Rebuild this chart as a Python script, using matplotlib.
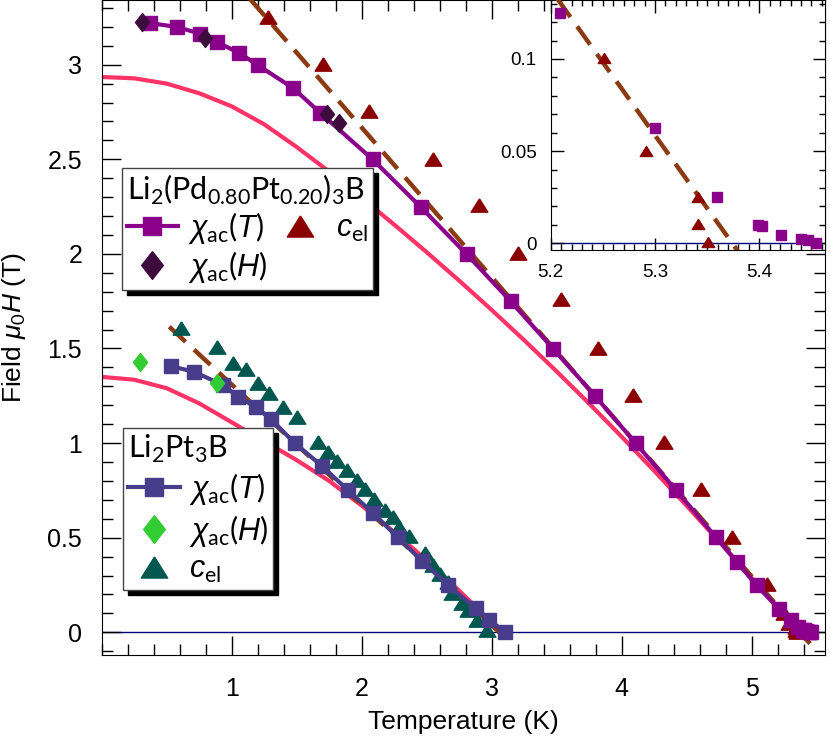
import matplotlib
matplotlib.use('Agg')
import matplotlib.pyplot as plt
from matplotlib.ticker import MultipleLocator, FuncFormatter, FixedLocator
from matplotlib.lines import Line2D
import numpy as np

plt.rcParams['font.family'] = ['Liberation Sans', 'DejaVu Sans']
plt.rcParams['mathtext.fontset'] = 'custom'
plt.rcParams['mathtext.rm'] = 'Lato'
plt.rcParams['mathtext.it'] = 'Liberation Sans:italic'
plt.rcParams['mathtext.bf'] = 'Lato:bold'

# Li2(Pd0.80Pt0.20)3B
pd_chiT_T = [0.372, 0.582, 0.756, 0.885, 1.058, 1.202, 1.474, 1.679, 2.085, 2.454, 2.808,
             3.146, 3.474, 3.797, 4.110, 4.418, 4.726, 4.885, 5.038, 5.209, 5.300, 5.359,
             5.399, 5.403, 5.4205, 5.4397, 5.4467, 5.454]
pd_chiT_H = [3.220, 3.199, 3.164, 3.120, 3.062, 2.997, 2.876, 2.747, 2.499, 2.248, 1.998,
             1.750, 1.498, 1.248, 0.998, 0.752, 0.502, 0.373, 0.248, 0.125, 0.0628, 0.0253,
             0.0098, 0.0094, 0.0045, 0.0025, 0.0018, 0.0003]
pd_chiH_T = [0.308, 0.797, 1.731, 1.828]
pd_chiH_H = [3.226, 3.143, 2.742, 2.692]
pd_cel_T = [1.277, 1.705, 2.058, 2.546, 2.902, 3.205, 3.532, 3.820, 4.089, 4.328, 4.610,
            4.846, 5.115, 5.251, 5.291, 5.341, 5.341, 5.3505]
pd_cel_H = [3.252, 3.006, 2.754, 2.504, 2.257, 2.004, 1.760, 1.505, 1.254, 1.004, 0.755,
            0.505, 0.255, 0.1005, 0.0502, 0.0253, 0.0103, 0.0005]
pd_whh_T = [0, 0.25, 0.5, 0.75, 1.0, 1.25, 1.5, 1.75, 2.0, 2.25, 2.5, 2.75, 3.0, 3.25,
            3.5, 3.75, 4.0, 4.25, 4.5, 4.75, 5.0, 5.25, 5.373]
pd_whh_H = [2.935, 2.928, 2.90, 2.849, 2.78, 2.685, 2.565, 2.435, 2.297, 2.155, 2.009, 1.859,
            1.704, 1.544, 1.379, 1.209, 1.034, 0.854, 0.669, 0.48, 0.287, 0.093, 0.0]
pd_fit_T = [1.10, 5.45]
pd_fit_H = [3.38, -0.06]

# Li2Pt3B
pt_chiT_T = [0.531, 0.710, 0.935, 1.051, 1.187, 1.302, 1.487, 1.697, 1.892, 2.089, 2.277,
             2.464, 2.662, 2.877, 2.982, 3.105]
pt_chiT_H = [1.407, 1.377, 1.306, 1.245, 1.189, 1.127, 0.998, 0.878, 0.752, 0.629, 0.502,
             0.377, 0.250, 0.127, 0.065, 0.0]
pt_chiH_T = [0.295, 0.885]
pt_chiH_H = [1.426, 1.315]
pt_cel_T = [0.608, 0.885, 1.012, 1.108, 1.205, 1.289, 1.397, 1.505, 1.666, 1.743, 1.812,
            1.889, 1.961, 2.025, 2.095, 2.179, 2.243, 2.289, 2.366, 2.487, 2.551, 2.602,
            2.666, 2.692, 2.769, 2.820, 2.885, 2.966]
pt_cel_H = [1.606, 1.509, 1.421, 1.389, 1.319, 1.263, 1.192, 1.139, 1.007, 0.954, 0.907,
            0.857, 0.805, 0.755, 0.706, 0.646, 0.611, 0.558, 0.509, 0.417, 0.356, 0.308,
            0.267, 0.206, 0.153, 0.118, 0.065, 0.012]
pt_whh_T = [0, 0.25, 0.5, 0.75, 1.0, 1.25, 1.5, 1.75, 2.0, 2.25, 2.5, 2.75, 2.9, 3.07]
pt_whh_H = [1.35, 1.335, 1.29, 1.21, 1.11, 1.01, 0.91, 0.80, 0.67, 0.53, 0.38, 0.22, 0.12, 0.0]
pt_fit_T = [0.52, 3.08]
pt_fit_H = [1.615, -0.013]

entry_labels = [r'$\chi_{\mathrm{ac}}(T)$', r'$\chi_{\mathrm{ac}}(H)$', r'$c_{\mathrm{el}}$']

c_pd_sq = '#8b008b'
c_pd_dia = '#3d0b3d'
c_pd_tri = '#8b0000'
c_pt_sq = '#483d8b'
c_pt_dia = '#32cd32'
c_pt_tri = '#00574f'
c_whh = '#ff3366'
c_fit = '#8b3a12'

tri = [(0, 0.8), (-1, -0.8), (1, -0.8), (0, 0.8)]
dia = [(0, 1), (0.78, 0), (0, -1), (-0.78, 0), (0, 1)]

fig = plt.figure(figsize=(8.3, 7.39), dpi=100)
ax = fig.add_axes([0.1225, 0.1137, 0.8715, 0.8858])

ax.axhline(0, color='navy', lw=1, zorder=1)
ax.plot(pd_whh_T, pd_whh_H, color=c_whh, lw=3, zorder=2)
ax.plot(pt_whh_T, pt_whh_H, color=c_whh, lw=3, zorder=2)
ax.plot(pd_fit_T, pd_fit_H, color=c_fit, lw=3.2, dashes=(5, 2.6), zorder=3)
ax.plot(pt_fit_T, pt_fit_H, color=c_fit, lw=3.2, dashes=(5, 2.6), zorder=3)

ax.plot(pd_cel_T, pd_cel_H, ls='none', marker=tri, ms=12, color=c_pd_tri, zorder=4)
ax.plot(pd_chiT_T, pd_chiT_H, '-', marker='s', ms=10, lw=3, color=c_pd_sq, zorder=5)
ax.plot(pd_chiH_T, pd_chiH_H, ls='none', marker=dia, ms=13, color=c_pd_dia, zorder=6)

ax.plot(pt_cel_T, pt_cel_H, ls='none', marker=tri, ms=12, color=c_pt_tri, zorder=4)
ax.plot(pt_chiT_T, pt_chiT_H, '-', marker='s', ms=10, lw=3, color=c_pt_sq, zorder=5)
ax.plot(pt_chiH_T, pt_chiH_H, ls='none', marker=dia, ms=13, color=c_pt_dia, zorder=6)

ax.set_xlim(0, 5.565)
ax.set_ylim(-0.12, 3.34)
ax.xaxis.set_major_locator(FixedLocator([1, 2, 3, 4, 5]))
ax.xaxis.set_minor_locator(MultipleLocator(0.2))
ax.yaxis.set_major_locator(MultipleLocator(0.5))
ax.yaxis.set_minor_locator(MultipleLocator(0.1))
ax.yaxis.set_major_formatter(FuncFormatter(lambda v, p: '%g' % v))
ax.tick_params(which='both', direction='in', top=True, right=True, labelsize=18, width=1)
ax.tick_params(which='major', length=14)
ax.tick_params(which='minor', length=8)
ax.tick_params(axis='x', pad=16)
ax.tick_params(axis='y', pad=14)
ax.set_xlabel('Temperature (K)', fontsize=19, labelpad=6)
ax.set_ylabel(r'Field $\mu_0H$ (T)', fontsize=19, labelpad=14)


def handles(c_sq, c_dia, c_tri):
    return [Line2D([], [], color=c_sq, lw=3, marker='s', ms=13),
            Line2D([], [], color=c_dia, ls='none', marker=dia, ms=20),
            Line2D([], [], color=c_tri, ls='none', marker=tri, ms=19)]


shadow = {'ox': 3.5, 'oy': -3.5, 'facecolor': 'black', 'edgecolor': 'black', 'alpha': 1}
leg_kw = dict(loc='upper left', borderaxespad=0, fancybox=False, shadow=shadow,
              edgecolor='#444444', framealpha=1, prop={'family': 'Lato', 'size': 22},
              title_fontproperties={'family': 'Lato', 'size': 22},
              handlelength=1.7, handletextpad=0.32, borderpad=0.15)

leg1 = ax.legend(handles(c_pd_sq, c_pd_dia, c_pd_tri), entry_labels,
                 title=r'Li$_2$(Pd$_{0.80}$Pt$_{0.20}$)$_3$B', ncol=2,
                 bbox_to_anchor=(0.028, 0.7435), columnspacing=0.22, labelspacing=0.1, **leg_kw)
leg1._legend_box.align = 'left'
leg1.get_frame().set_linewidth(1)
ax.add_artist(leg1)

leg2 = ax.legend(handles(c_pt_sq, c_pt_dia, c_pt_tri), entry_labels,
                 title=r'Li$_2$Pt$_3$B',
                 bbox_to_anchor=(0.0295, 0.3466), labelspacing=0.2, **leg_kw)
leg2._legend_box.align = 'left'
leg2.get_frame().set_linewidth(1)

# inset near Tc of Li2(Pd0.80Pt0.20)3B
ins = fig.add_axes([0.6635, 0.6617, 0.3305, 0.3383])
ins.axhline(0, color='navy', lw=1, zorder=1)
ins.plot(pd_fit_T, pd_fit_H, color=c_fit, lw=3.2, dashes=(5, 2.6), zorder=3)
ins.plot(pd_cel_T, pd_cel_H, ls='none', marker=tri, ms=9, color=c_pd_tri, zorder=4)
ins.plot(pd_chiT_T, pd_chiT_H, ls='none', marker='s', ms=7, color=c_pd_sq, zorder=5)
ins.set_xlim(5.2, 5.463)
ins.set_ylim(-0.0036, 0.132)
ins.xaxis.set_major_locator(MultipleLocator(0.1))
ins.xaxis.set_minor_locator(MultipleLocator(0.01))
ins.yaxis.set_major_locator(MultipleLocator(0.05))
ins.yaxis.set_minor_locator(MultipleLocator(0.01))
ins.xaxis.set_major_formatter(FuncFormatter(lambda v, p: '%g' % round(v, 3)))
ins.yaxis.set_major_formatter(FuncFormatter(lambda v, p: '%g' % round(v, 3)))
ins.tick_params(which='both', direction='in', top=True, right=True, labelsize=13.5, width=1)
ins.tick_params(which='major', length=9)
ins.tick_params(which='minor', length=4.5)
ins.tick_params(axis='x', pad=10)
ins.tick_params(axis='y', pad=10)

fig.savefig('out.png', dpi=100)
